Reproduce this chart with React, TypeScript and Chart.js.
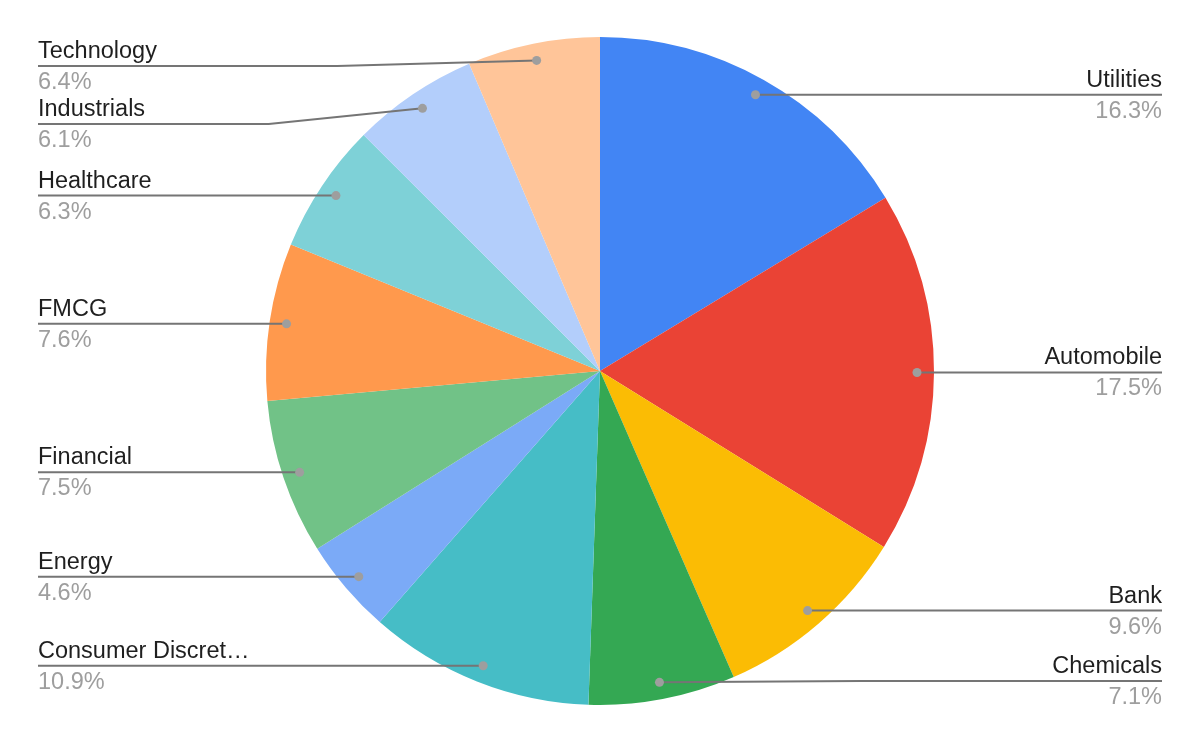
import React from "react"
import { Chart, registerables } from "chart.js"

Chart.register(...registerables)

const sectors = [
  "Utilities",
  "Automobile",
  "Bank",
  "Chemicals",
  "Consumer Discretionary",
  "Energy",
  "Financial",
  "FMCG",
  "Healthcare",
  "Industrials",
  "Technology",
]
const shares = [16.3, 17.5, 9.6, 7.1, 10.9, 4.6, 7.5, 7.6, 6.3, 6.1, 6.4]
const colors = [
  "#4285F4",
  "#EA4335",
  "#FBBC04",
  "#34A853",
  "#46BDC6",
  "#7BAAF7",
  "#71C287",
  "#FF994D",
  "#7ED1D7",
  "#B3CEFB",
  "#FFC599",
]

const FONT = "23.5px 'Liberation Sans', Arial, sans-serif"

// cut a label with an ellipsis when it is too wide
const fitText = (ctx: CanvasRenderingContext2D, text: string, maxW: number) => {
  if (ctx.measureText(text).width <= maxW) return text
  let t = text
  while (t.length > 1 && ctx.measureText(t + "…").width > maxW) t = t.slice(0, -1)
  return t.trimEnd() + "…"
}

const leaderLabels = {
  id: "leaderLabels",
  afterDatasetsDraw(chart: any) {
    const ctx: CanvasRenderingContext2D = chart.ctx
    const area = chart.chartArea
    const meta = chart.getDatasetMeta(0)
    const values: number[] = chart.data.datasets[0].data
    const total = values.reduce((a, b) => a + b, 0)

    const items = meta.data.map((arc: any, i: number) => {
      const p = arc.getProps(["x", "y", "startAngle", "endAngle", "outerRadius"], true)
      const mid = (p.startAngle + p.endAngle) / 2
      const r = p.outerRadius - 17
      const px = p.x + Math.cos(mid) * r
      const py = p.y + Math.sin(mid) * r
      return { i, px, py, ly: py, right: Math.cos(mid) >= 0 }
    })

    const top = area.top + 29
    const bottom = area.bottom - 24
    const gap = 58
    for (const right of [false, true]) {
      const side = items.filter((it: any) => it.right === right).sort((a: any, b: any) => a.py - b.py)
      let prev = -Infinity
      for (const it of side) {
        it.ly = Math.max(it.py, top, prev + gap)
        prev = it.ly
      }
      let next = Infinity
      for (let k = side.length - 1; k >= 0; k--) {
        side[k].ly = Math.min(side[k].ly, bottom, next - gap)
        next = side[k].ly
      }
    }

    ctx.save()
    ctx.font = FONT
    for (const it of items) {
      const tx = it.right ? chart.width - 38 : 38

      ctx.strokeStyle = "#757575"
      ctx.lineWidth = 2
      ctx.beginPath()
      ctx.moveTo(it.px, it.py)
      if (Math.abs(it.ly - it.py) > 0.5) {
        ctx.lineTo(it.px + (tx - it.px) * 0.4, it.ly)
      }
      ctx.lineTo(tx, it.ly)
      ctx.stroke()

      ctx.fillStyle = "#9E9E9E"
      ctx.beginPath()
      ctx.arc(it.px, it.py, 4.5, 0, Math.PI * 2)
      ctx.fill()

      ctx.textAlign = it.right ? "right" : "left"
      ctx.textBaseline = "alphabetic"
      ctx.fillStyle = "#1F1F1F"
      ctx.fillText(fitText(ctx, chart.data.labels[it.i], 214), tx, it.ly - 8)
      ctx.fillStyle = "#9E9E9E"
      ctx.fillText(((values[it.i] / total) * 100).toFixed(1) + "%", tx, it.ly + 23)
    }
    ctx.restore()
  },
}

const SectorPie = () => {
  const chartRef = React.useRef<HTMLCanvasElement>(null)

  React.useEffect(() => {
    if (chartRef.current == null) {
      return
    }

    const pie = new Chart(chartRef.current, {
      type: "pie",
      data: {
        labels: sectors,
        datasets: [
          {
            data: shares,
            backgroundColor: colors,
            borderWidth: 0,
          },
        ],
      },
      options: {
        animation: false,
        responsive: true,
        maintainAspectRatio: false,
        layout: { padding: { top: 37, bottom: 37, left: 0, right: 0 } },
        plugins: {
          legend: { display: false },
          tooltip: { enabled: false },
        },
      },
      plugins: [leaderLabels],
    })

    return () => {
      pie.destroy()
    }
  }, [])

  return <canvas ref={chartRef} />
}

export default function App() {
  return (
    <div style={{ position: "fixed", left: 0, top: 0, width: 1200, height: 742, background: "#fff" }}>
      <SectorPie />
    </div>
  )
}
